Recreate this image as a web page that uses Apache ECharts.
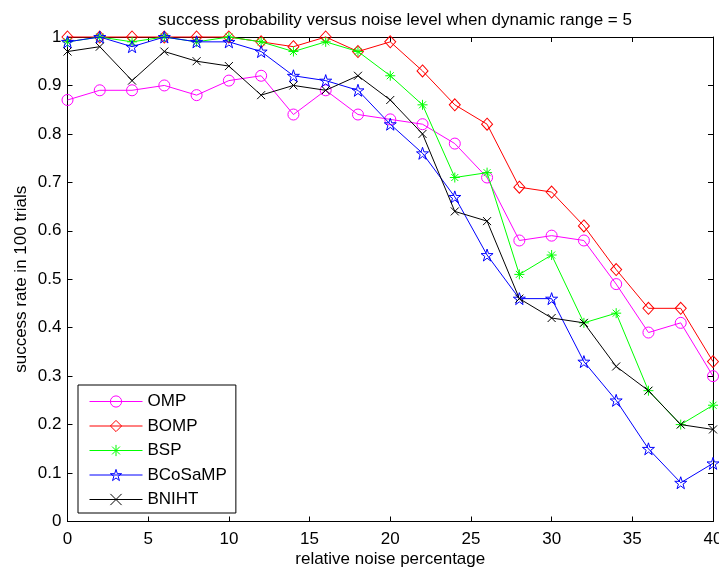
<!DOCTYPE html>
<html><head><meta charset="utf-8">
<script src="https://cdn.jsdelivr.net/npm/echarts@6/dist/echarts.min.js"></script>
<style>html,body{margin:0;padding:0;background:#fff}#c{width:719px;height:567px}</style>
</head><body><div id="c"></div>
<script>
const noise = [0,2,4,6,8,10,12,14,16,18,20,22,24,26,28,30,32,34,36,38,40];
const omp     = [0.87,0.89,0.89,0.90,0.88,0.91,0.92,0.84,0.89,0.84,0.83,0.82,0.78,0.71,0.58,0.59,0.58,0.49,0.39,0.41,0.30];
const bomp    = [1.00,1.00,1.00,1.00,1.00,1.00,0.99,0.98,1.00,0.97,0.99,0.93,0.86,0.82,0.69,0.68,0.61,0.52,0.44,0.44,0.33];
const bsp     = [0.99,1.00,0.99,1.00,0.99,1.00,0.99,0.97,0.99,0.97,0.92,0.86,0.71,0.72,0.51,0.55,0.41,0.43,0.27,0.20,0.24];
const bcosamp = [0.99,1.00,0.98,1.00,0.99,0.99,0.97,0.92,0.91,0.89,0.82,0.76,0.67,0.55,0.46,0.46,0.33,0.25,0.15,0.08,0.12];
const bniht   = [0.97,0.98,0.91,0.97,0.95,0.94,0.88,0.90,0.89,0.92,0.87,0.80,0.64,0.62,0.46,0.42,0.41,0.32,0.27,0.20,0.19];
const names = ['OMP','BOMP','BSP','BCoSaMP','BNIHT'];
const yTicks = [0,0.1,0.2,0.3,0.4,0.5,0.6,0.7,0.8,0.9,1];
const xTicks = [0,5,10,15,20,25,30,35,40];

const colors = ['#ff00ff','#ff0000','#00ff00','#0000ff','#000000'];
const starPath = 'path://M0,-1L0.2245,-0.309L0.951,-0.309L0.3633,0.118L0.588,0.809L0,0.382L-0.588,0.809L-0.3633,0.118L-0.951,-0.309L-0.2245,-0.309Z';
const asterPath = 'path://M0,-1L0,1M-1,0L1,0M-0.7,-0.7L0.7,0.7M-0.7,0.7L0.7,-0.7';
const xPath = 'path://M-1,-1L1,1M-1,1L1,-1';
const symbols = ['circle','diamond',asterPath,starPath,xPath];
const sizes = [11,[11,12],10,12,8];
const allData = [omp,bomp,bsp,bcosamp,bniht];
const font = 'Liberation Sans, Arial, Helvetica, sans-serif';

const chart = echarts.init(document.getElementById('c'));
const line = {show:true,onZero:false,lineStyle:{color:'#000',width:1}};
const tick = (vals)=>({show:true,inside:true,length:5,lineStyle:{color:'#000'},customValues:vals});
chart.setOption({
  animation:false,
  backgroundColor:'#fff',
  title:{text:'success probability versus noise level when dynamic range = 5',left:390,textAlign:'center',top:7,
    textStyle:{fontFamily:font,fontSize:17,fontWeight:'normal',color:'#000'}},
  grid:{left:67.5,right:6,top:37,bottom:45.5,outerBoundsMode:'none',containLabel:false},
  legend:{orient:'vertical',left:78,top:385,backgroundColor:'#fff',borderColor:'#000',borderWidth:1,
    padding:[8,9,5,11],itemWidth:53,itemHeight:14,itemGap:7.5,
    textStyle:{fontFamily:font,fontSize:17,color:'#000'},
    data:names.map((n,i)=>({name:n,
      itemStyle:{color:'rgba(0,0,0,0)',borderColor:colors[i],borderWidth:1},
      lineStyle:{color:colors[i],width:1}}))},
  xAxis:[
    {type:'value',min:0,max:40,interval:5,position:'bottom',
      name:'relative noise percentage',nameLocation:'middle',nameGap:29,nameMoveOverlap:false,
      nameTextStyle:{fontFamily:font,fontSize:17,color:'#000'},
      axisLine:line,splitLine:{show:false},
      axisLabel:{fontFamily:font,fontSize:17,color:'#000',margin:9,customValues:xTicks},
      axisTick:tick(xTicks)},
    {type:'value',min:0,max:40,interval:5,position:'top',axisLine:line,splitLine:{show:false},
      axisLabel:{show:false},axisTick:tick(xTicks)}
  ],
  yAxis:[
    {type:'value',min:0,max:1,interval:0.1,position:'left',
      name:'success rate in 100 trials',nameLocation:'middle',nameGap:38,nameMoveOverlap:false,
      nameTextStyle:{fontFamily:font,fontSize:17,color:'#000'},
      axisLine:line,splitLine:{show:false},
      axisLabel:{fontFamily:font,fontSize:17,color:'#000',margin:6,customValues:yTicks},
      axisTick:tick(yTicks)},
    {type:'value',min:0,max:1,interval:0.1,position:'right',axisLine:line,splitLine:{show:false},
      axisLabel:{show:false},axisTick:tick(yTicks)}
  ],
  series:names.map((n,i)=>({
    name:n,type:'line',xAxisIndex:0,yAxisIndex:0,clip:false,
    data:noise.map((x,j)=>[x,allData[i][j]]),
    symbol:symbols[i],symbolSize:sizes[i],showAllSymbol:true,
    lineStyle:{color:colors[i],width:1},
    itemStyle:{color:'rgba(0,0,0,0)',borderColor:colors[i],borderWidth:1},
    emphasis:{disabled:true},z:2+i
  }))
});
</script></body></html>
